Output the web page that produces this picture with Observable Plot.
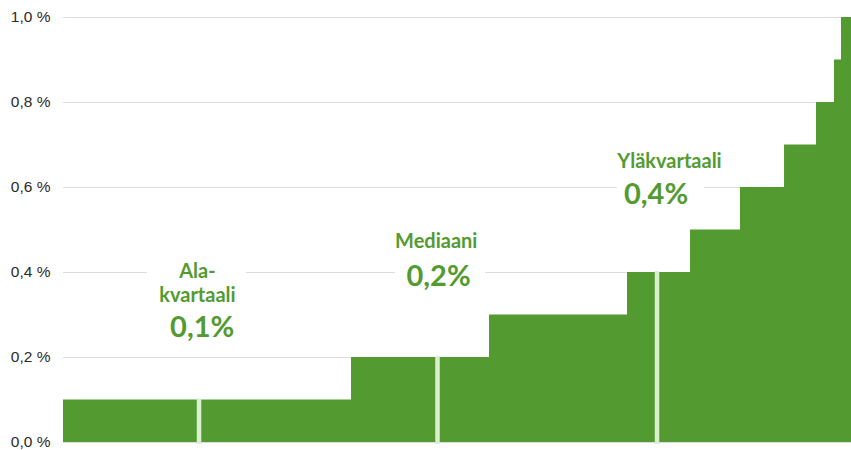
<!DOCTYPE html>
<html><head><meta charset="utf-8">
<script src="https://cdn.jsdelivr.net/npm/d3@7"></script>
<script src="https://cdn.jsdelivr.net/npm/@observablehq/plot@0.6"></script>
<style>body{margin:0;background:#fff} svg{overflow:visible}</style>
</head><body><div id="chart"></div>
<script>
// Step distribution: start position (share of range, %) and value (%)
const stepStart = [0, 36.55, 54.06, 71.57, 79.57, 85.91, 91.50, 95.56, 97.84, 98.73];
const stepValue = [0.1, 0.2, 0.3, 0.4, 0.5, 0.6, 0.7, 0.8, 0.9, 1.0];
const xEnd = 100;

// Quartile markers
const quartileX = [17.2, 47.46, 75.32];
const quartileValue = [0.1, 0.2, 0.4];
const quartileNames = ["Ala-\nkvartaali", "Mediaani", "Yläkvartaali"];
const quartileTexts = ["0,1%", "0,2%", "0,4%"];
const nameX = [17.0, 47.3, 76.9];
const nameY = [0.376, 0.4753, 0.6635];
const valueX = [17.6, 47.6, 75.2];
const valueY = [0.269, 0.39, 0.582];
// white label boxes (data units)
const boxX1 = [10.66, 42.13, 70.3];
const boxX2 = [23.22, 53.55, 81.35];
const boxY1 = [0.23, 0.36, 0.56];
const boxY2 = [0.41, 0.50, 0.69];

const yTicks = [0, 0.2, 0.4, 0.6, 0.8, 1.0];

const green = "#539b31";
const steps = stepStart.map((x, i) => ({x, v: stepValue[i]}));
steps.push({x: xEnd, v: stepValue[stepValue.length - 1]});
const quart = quartileX.map((x, i) => ({x, v: quartileValue[i]}));
const names = quartileNames.map((t, i) => ({t, x: nameX[i], y: nameY[i]}));
const vals = quartileTexts.map((t, i) => ({t, x: valueX[i], y: valueY[i]}));
const boxes = boxX1.map((x1, i) => ({x1, x2: boxX2[i], y1: boxY1[i], y2: boxY2[i]}));
const fmt = d => d.toFixed(1).replace(".", ",") + " %";

const chart = Plot.plot({
  width: 851,
  height: 450,
  marginLeft: 63,
  marginRight: 0,
  marginTop: 17,
  marginBottom: 8,
  style: {fontFamily: "Liberation Sans, Arial, sans-serif", background: "#fff"},
  x: {domain: [0, xEnd], axis: null},
  y: {domain: [0, 1.0], axis: null},
  marks: [
    Plot.gridY(yTicks, {stroke: "#dcdcdc", strokeOpacity: 1, strokeWidth: 1.2}),
    Plot.text(yTicks, {y: d => d, text: fmt, frameAnchor: "left", textAnchor: "end", dx: -13, fontSize: 15.5, fill: "#2a2a2a", fontFamily: "Liberation Sans, Arial, sans-serif"}),
    Plot.areaY(steps, {x: "x", y: "v", curve: "step-after", fill: green}),
    Plot.ruleX(quart, {x: "x", y1: 0, y2: "v", stroke: "#d9efcf", strokeWidth: 4.5, insetTop: 2, insetBottom: 1}),
    Plot.rect(boxes, {x1: "x1", x2: "x2", y1: "y1", y2: "y2", fill: "#fff"}),
    Plot.text(names, {x: "x", y: "y", text: "t", fill: green, fontSize: 20, fontWeight: "bold", fontFamily: "Lato", lineHeight: 1.2, lineAnchor: "middle"}),
    Plot.text(vals, {x: "x", y: "y", text: "t", fill: green, fontSize: 29, fontWeight: "bold", fontFamily: "Lato", lineAnchor: "middle"})
  ]
});
document.getElementById("chart").appendChild(chart);
</script>
</body></html>
